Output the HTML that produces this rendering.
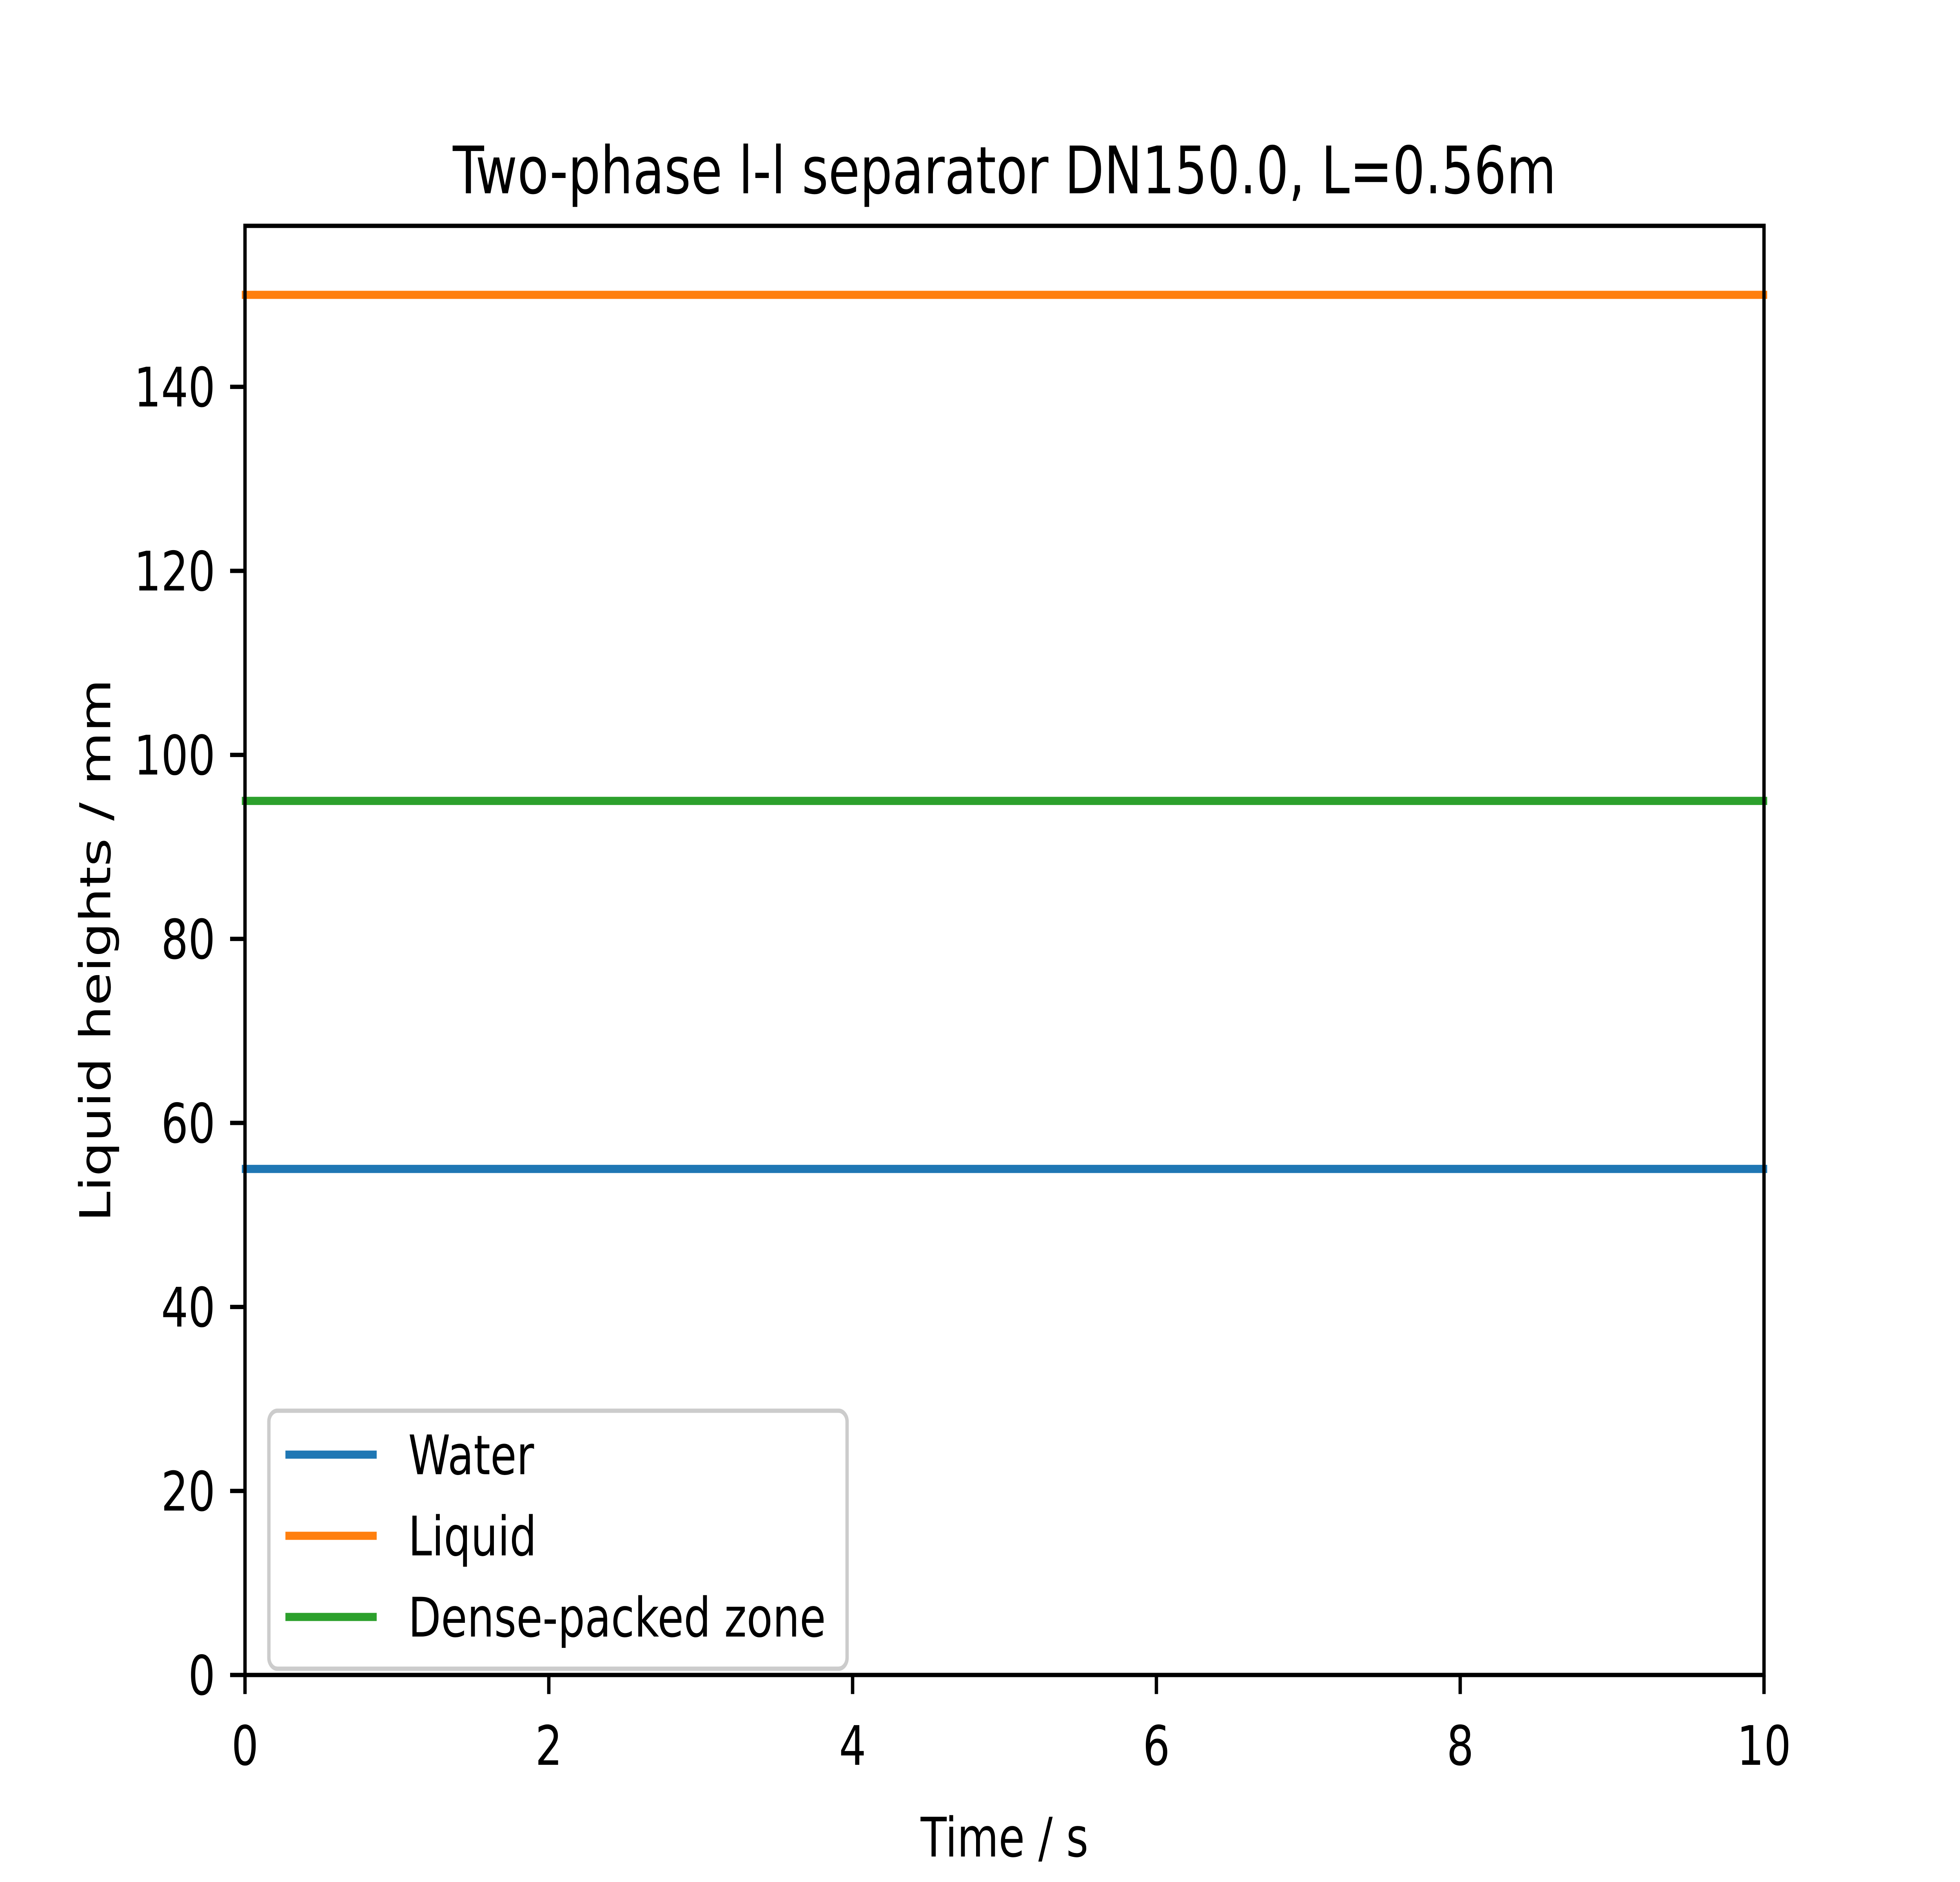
<!DOCTYPE html>
<html><head><meta charset="utf-8"><style>
html,body{margin:0;padding:0;background:#fff;width:100%;height:100%;overflow:hidden;}
svg{display:block;width:100vw;height:100vh;font-family:"DejaVu Sans","Liberation Sans",sans-serif;}
</style></head><body>
<svg id="chart" viewBox="0 0 6400 4800" preserveAspectRatio="none" xmlns="http://www.w3.org/2000/svg">
<rect width="6400" height="4800" fill="#fff"/>
<g id="plot"></g>
</svg>
<script>
const seriesNames = ["Water", "Liquid", "Dense-packed zone"];
const seriesColors = ["#1f77b4", "#ff7f0e", "#2ca02c"];
const timeValues = [0, 10];
const waterValues = [55, 55];
const liquidValues = [150, 150];
const dpzValues = [95, 95];
const xTicks = [0, 2, 4, 6, 8, 10];
const yTicks = [0, 20, 40, 60, 80, 100, 120, 140];
const xMin = 0, xMax = 10, yMin = 0, yMax = 157.5;

const L = 800, R = 5760, T = 576, B = 4272;
const sx = v => L + (v - xMin) / (xMax - xMin) * (R - L);
const sy = v => B - (v - yMin) / (yMax - yMin) * (B - T);
const NS = "http://www.w3.org/2000/svg";
const g = document.getElementById("plot");
function mk(tag, attrs, parent, text) {
  const e = document.createElementNS(NS, tag);
  for (const k in attrs) e.setAttribute(k, attrs[k]);
  if (text !== undefined) e.textContent = text;
  (parent || g).appendChild(e);
  return e;
}

const allSeries = [waterValues, liquidValues, dpzValues];
allSeries.forEach((vals, i) => {
  const pts = timeValues.map((t, j) => sx(t) + "," + sy(vals[j])).join(" ");
  const pl = mk("polyline", {points: pts, fill: "none", stroke: seriesColors[i], "stroke-width": 20.8, "stroke-linecap": "square"});
  
  
});

const frame = mk("rect", {x: L, y: T, width: R - L, height: B - T, fill: "none", stroke: "#000", "stroke-width": 11});



xTicks.forEach(v => {
  const tk = mk("line", {x1: sx(v), x2: sx(v), y1: B, y2: B + 48.6, stroke: "#000", "stroke-width": 11});
  
  
  const tl = mk("text", {x: sx(v), y: B + 48.6 + 48.6 + 132, "font-size": 139, "text-anchor": "middle"}, g, String(v));
  
  
});
yTicks.forEach(v => {
  const tk = mk("line", {x1: L - 48.6, x2: L, y1: sy(v), y2: sy(v), stroke: "#000", "stroke-width": 11});
  
  
  const tl = mk("text", {x: L - 97, y: sy(v) + 50, "font-size": 139, "text-anchor": "end"}, g, String(v));
  
  
});

const title = mk("text", {x: (L + R) / 2, y: 493, "font-size": 167, "text-anchor": "middle"}, g, "Two-phase l-l separator DN150.0, L=0.56m");


const xl = mk("text", {x: (L + R) / 2, y: 4735, "font-size": 139, "text-anchor": "middle"}, g, "Time / s");


const yl = mk("text", {x: 0, y: 0, "font-size": 139, "text-anchor": "middle", transform: "translate(360," + ((T + B) / 2) + ") rotate(-90)"}, g, "Liquid heights / mm");



const leg = mk("g", {});


mk("rect", {x: 878, y: 3598, width: 1888, height: 658, rx: 28, fill: "#fff", "fill-opacity": 0.8, stroke: "#ccc", "stroke-width": 11}, leg);
const rowsY = [3710, 3917, 4124];
seriesNames.forEach((n, i) => {
  const ent = mk("g", {}, leg);
  
  
  mk("line", {x1: 932, x2: 1230, y1: rowsY[i], y2: rowsY[i], stroke: seriesColors[i], "stroke-width": 20.8}, ent);
  mk("text", {x: 1333, y: rowsY[i] + 50, "font-size": 139}, ent, n);
});
</script>
</body></html>
